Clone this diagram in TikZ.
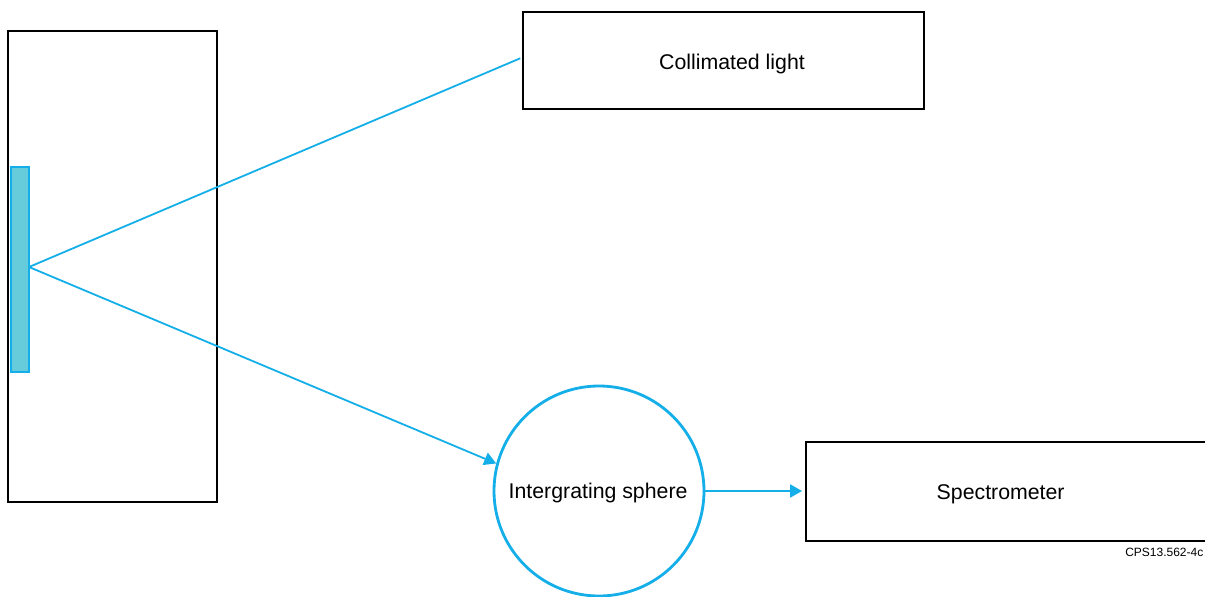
\documentclass[tikz,border=0pt]{standalone}
\usepackage{fontspec}
\setmainfont{Liberation Sans}
\usetikzlibrary{arrows.meta}
\definecolor{cyanline}{RGB}{20,174,232}
\definecolor{samplefill}{RGB}{102,204,220}
\tikzset{
  blackbox/.style={draw=black, line width=1.8pt, rectangle, inner sep=0pt},
  lightray/.style={draw=cyanline, line width=1.8pt},
  rayarrow/.style={lightray, -{Triangle[length=12pt,width=13pt]}},
  lbl/.style={font=\fontsize{21.3}{25}\selectfont, inner sep=0pt, anchor=base west},
}
\begin{document}
\begin{tikzpicture}[x=1pt,y=-1pt]
\clip (0,0) rectangle (1205,597);
\node[blackbox, minimum width=209pt, minimum height=471pt] (holder) at (112.5,266.5) {};
\node[draw=cyanline, fill=samplefill, line width=1.2pt, rectangle, inner sep=0pt,
      minimum width=18pt, minimum height=205pt] (samp) at (20,269.5) {};
\node[blackbox, minimum width=401pt, minimum height=97pt] (coll) at (723.5,60.5) {};
\node[lbl] (colltxt) at (659,69) {Collimated light};
\node[draw=cyanline, line width=2.8pt, circle, minimum size=210pt, inner sep=0pt] (sph) at (599,491) {};
\node[lbl] (sphtxt) at (508.5,498.3) {Intergrating sphere};
\node[blackbox, minimum width=409pt, minimum height=99pt] (spec) at (1010.5,491.5) {};
\node[lbl] (spectxt) at (936.5,499.7) {Spectrometer};
\node[font=\fontsize{12}{14}\selectfont, inner sep=0pt, anchor=base east] (cps) at (1203.5,556.5) {CPS13.562-4c};
\coordinate (hit) at (29,267);
\draw[lightray, shorten >=2pt] (hit) -- ([yshift=3pt]coll.west);
\draw[rayarrow] (hit) -- (sph.165.4);
\draw[rayarrow, shorten >=3pt] (sph.east) -- (sph.east -| spec.west);
\end{tikzpicture}
\end{document}
